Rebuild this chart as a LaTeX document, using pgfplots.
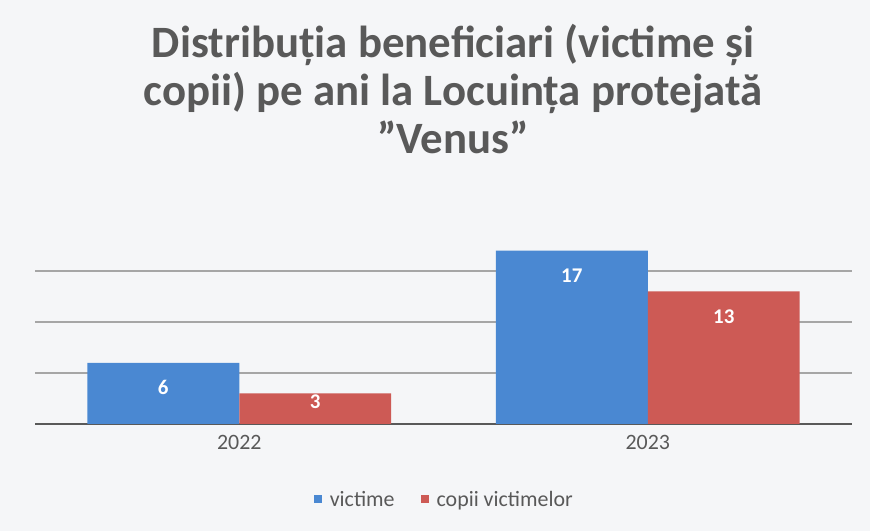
\documentclass[border=0pt]{standalone}
\usepackage{pgfplots}
\pgfplotsset{compat=1.18}
\usepackage{fontspec}
\setmainfont{Carlito}
\definecolor{barblue}{HTML}{4A88D2}
\definecolor{barred}{HTML}{CD5A55}
\definecolor{txtgray}{HTML}{595959}
\definecolor{gridgray}{HTML}{A6A6A6}
\definecolor{basegray}{HTML}{595959}
\definecolor{bgcol}{HTML}{F5F6F8}
\begin{document}
\begin{tikzpicture}[x=1bp,y=1bp]
\fill[bgcol] (0,0) rectangle (870,531);
\node[font=\bfseries\fontsize{45}{48}\selectfont, text=txtgray, align=center] at (453,442) {Distribuția beneficiari (victime și\\copii) pe ani la Locuința protejată\\”Venus”};
\begin{axis}[
  at={(35bp,107bp)}, anchor=south west,
  scale only axis, width=817bp, height=204bp,
  ybar=0pt, bar width=0.372,
  xmin=-0.5, xmax=1.5, ymin=0, ymax=20,
  xtick={0,1}, xticklabels={2022,2023},
  ytick={5,10,15}, yticklabels={},
  extra y ticks={0}, extra y tick labels={},
  extra y tick style={grid style={color=basegray, line width=2.5bp}},
  ymajorgrids, grid style={color=gridgray, line width=1.5bp},
  major tick length=0pt,
  axis line style={draw=none},
  /pgf/number format/assume math mode=true,
  xticklabel style={font=\fontsize{22}{22}\selectfont, text=txtgray, yshift=-8bp},
  nodes near coords,
  visualization depends on={y \as \rawy},
  every node near coord/.append style={font=\bfseries\fontsize{21}{21}\selectfont, text=white, anchor=center, yshift={(\rawy<5) ? -8 : -25}},
  legend style={at={(axis description cs:0.501,-0.37)}, anchor=center, legend columns=-1, draw=none, fill=none, font=\fontsize{22}{22}\selectfont, text=txtgray,
    /tikz/every even column/.append style={column sep=24bp},
    /tikz/every odd column/.append style={column sep=6bp}},
  legend image code/.code={\fill[#1] (0bp,-4bp) rectangle (8bp,4bp);},
]
\addplot[fill=barblue, draw=none] coordinates {(0,6) (1,17)};
\addplot[fill=barred, draw=none] coordinates {(0,3) (1,13)};
\legend{victime, copii victimelor}
\end{axis}
\end{tikzpicture}
\end{document}
